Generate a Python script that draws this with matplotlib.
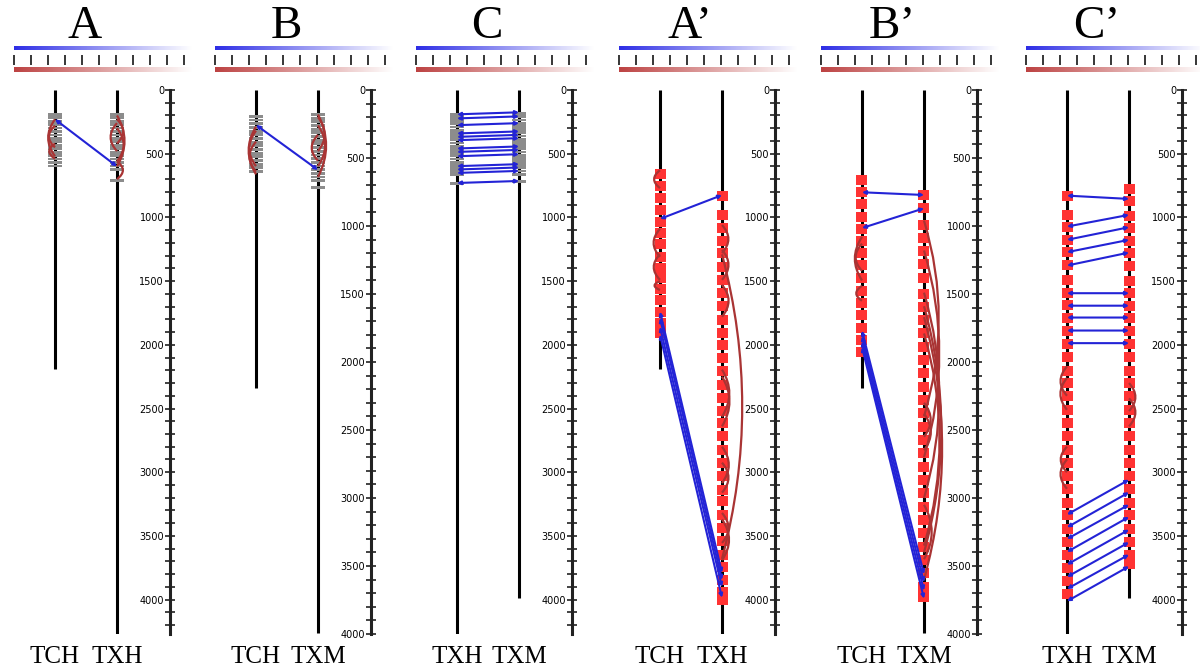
import numpy as np
import matplotlib.pyplot as plt
from matplotlib.patches import Rectangle, PathPatch
from matplotlib.path import Path
from matplotlib.ticker import MultipleLocator

W, H = 1200, 672

titles = ["A", "B", "C", "A\u2019", "B\u2019", "C\u2019"]
left_names = ["TCH", "TCH", "TXH", "TCH", "TCH", "TXH"]
right_names = ["TXH", "TXM", "TXM", "TXH", "TXM", "TXM"]
chrom_len = {"TCH": 2190, "TXH": 4270, "TXM": 3990}
axis_max = [4270, 4000, 4270, 4270, 4000, 4270]
block_kind = ["gray", "gray", "gray", "red", "red", "red"]

# ---- panel A
A_left_blocks = [180, 207, 234, 261, 288, 315, 342, 369, 396, 423, 450, 477, 504, 531, 558, 585]
A_right_blocks = [180, 207, 234, 261, 288, 315, 342, 369, 396, 423, 450, 477, 504, 531, 558, 585, 612, 700]
A_links = [(230, 600)]
A_left_arcs = [(230, 520), (280, 450), (420, 540)]
A_right_arcs = [(200, 600), (230, 420), (300, 560), (560, 700)]
A_inner_arcs = [(260, 480)]

# ---- panel B
B_left_blocks = [184, 211, 238, 265, 292, 319, 346, 373, 400, 427, 454, 481, 508, 535, 562, 589]
B_right_blocks = [170, 197, 224, 251, 278, 305, 332, 359, 386, 413, 440, 467, 494, 521, 548, 575, 602, 629, 655, 705]
B_links = [(257, 588)]
B_left_arcs = [(270, 620), (300, 560), (380, 600)]
B_right_arcs = [(180, 640), (200, 450), (260, 560)]
B_inner_arcs = [(330, 520)]

# ---- panel C
C_left_blocks = [180, 205, 230, 255, 280, 305, 330, 355, 380, 405, 430, 455, 480, 505, 530, 555, 580, 605, 630, 655, 720]
C_right_blocks = [175, 200, 225, 250, 275, 300, 325, 350, 375, 400, 425, 450, 475, 500, 525, 550, 575, 600, 625, 650, 710]
C_links = [(191, 175), (223, 207), (276, 260), (341, 325), (368, 352), (394, 378), (459, 443),
           (486, 470), (520, 504), (598, 582), (624, 608), (651, 635), (730, 714)]
C_left_arcs = []
C_right_arcs = []
C_inner_arcs = []

# ---- panel A'
Ap_left_blocks = [622, 714, 805, 902, 994, 1085, 1171, 1268, 1354, 1438, 1520, 1608, 1700, 1788, 1867]
Ap_right_blocks = [792, 941, 1046, 1145, 1242, 1347, 1451, 1556, 1660, 1765, 1869, 1966, 2065, 2170, 2275,
                   2379, 2484, 2575, 2680, 2784, 2889, 2993, 3098, 3190, 3294, 3398, 3503, 3608, 3707,
                   3804, 3904, 3965]
Ap_links = [(1012, 825), (1740, 3790), (1790, 3845), (1860, 3900), (1920, 3985)]
Ap_left_arcs = [(630, 770), (1090, 1310), (1290, 1490), (1500, 1570)]
Ap_right_arcs = [(1060, 1280), (1255, 1490), (1530, 1780), (1290, 3680), (2195, 2565), (2250, 2640),
                 (2800, 3085), (2925, 3160), (3320, 3555), (3370, 3690)]
Ap_inner_arcs = []

# ---- panel B'
Bp_left_blocks = [625, 711, 803, 894, 985, 1074, 1164, 1250, 1343, 1441, 1532, 1618, 1711, 1801, 1887]
Bp_right_blocks = [735, 829, 956, 1049, 1147, 1245, 1343, 1466, 1556, 1654, 1752, 1851, 1949, 2047, 2145,
                   2243, 2341, 2439, 2537, 2635, 2733, 2831, 2929, 3027, 3125, 3223, 3321, 3419, 3517,
                   3615, 3690]
Bp_links = [(752, 772), (1015, 870), (1770, 3560), (1810, 3620), (1850, 3680), (1890, 3740)]
Bp_left_arcs = [(1080, 1400), (1130, 1330), (1440, 1550)]
Bp_right_arcs = [(960, 2400), (1180, 2700), (1490, 3000), (1590, 3400), (1670, 3600), (1790, 3350),
                 (2300, 2550), (2380, 2650), (3050, 3450)]
Bp_inner_arcs = []

# ---- panel C'
Cp_left_blocks = [790, 940, 1040, 1140, 1235, 1335, 1450, 1555, 1650, 1750, 1850, 1955, 2060, 2165, 2260,
                  2365, 2470, 2575, 2680, 2785, 2890, 2990, 3095, 3200, 3300, 3405, 3505, 3610, 3710,
                  3815, 3920]
Cp_right_blocks = [740, 830, 950, 1045, 1145, 1240, 1345, 1460, 1555, 1655, 1750, 1850, 1955, 2060, 2165,
                   2260, 2365, 2470, 2575, 2680, 2785, 2890, 2990, 3095, 3200, 3300, 3405, 3505, 3610, 3680]
Cp_links = [(829, 855), (1072, 980), (1176, 1077), (1273, 1176), (1378, 1276),
            (1595, 1595), (1693, 1693), (1786, 1786), (1888, 1888), (1987, 1987),
            (3333, 3059), (3433, 3158), (3524, 3255), (3626, 3351), (3725, 3451), (3822, 3550),
            (3916, 3647), (4013, 3739)]
Cp_left_arcs = [(2170, 2400), (2260, 2510), (2800, 3000), (2900, 3130)]
Cp_right_arcs = [(2300, 2520), (2420, 2640)]
Cp_inner_arcs = []

left_blocks = [A_left_blocks, B_left_blocks, C_left_blocks, Ap_left_blocks, Bp_left_blocks, Cp_left_blocks]
right_blocks = [A_right_blocks, B_right_blocks, C_right_blocks, Ap_right_blocks, Bp_right_blocks, Cp_right_blocks]
links = [A_links, B_links, C_links, Ap_links, Bp_links, Cp_links]
left_arcs = [A_left_arcs, B_left_arcs, C_left_arcs, Ap_left_arcs, Bp_left_arcs, Cp_left_arcs]
right_arcs = [A_right_arcs, B_right_arcs, C_right_arcs, Ap_right_arcs, Bp_right_arcs, Cp_right_arcs]
inner_arcs = [A_inner_arcs, B_inner_arcs, C_inner_arcs, Ap_inner_arcs, Bp_inner_arcs, Cp_inner_arcs]

origins = [13, 214, 415, 618, 820, 1025]

BLUE = "#2323d6"
ARC = "#a93434"
RED = "#ff3333"
GRAY = "#8c8c8c"
PX = 62.0  # pixels per x unit

fig = plt.figure(figsize=(12, 6.72), dpi=100)


def arc(ax, x, y1, y2, side, scale):
    span_px = abs(y2 - y1) * scale
    c = (10 + 0.1 * span_px) / PX
    p = Path([(x, y1), (x + side * c, (y1 + y2) / 2), (x, y2)], [Path.MOVETO, Path.CURVE3, Path.CURVE3])
    ax.add_patch(PathPatch(p, fc="none", ec=ARC, lw=1.6, zorder=4))


def color_bar(o):
    cax = fig.add_axes([o / W, 1 - 75 / H, 180 / W, 31 / H])
    cax.axis("off")
    t = np.linspace(0, 1, 256)
    blue = np.ones((1, 256, 4))
    blue[0, :, 0] = 0.18 + 0.82 * t
    blue[0, :, 1] = 0.18 + 0.82 * t
    blue[0, :, 2] = 0.9 + 0.1 * t
    red = np.ones((1, 256, 4))
    red[0, :, 0] = 0.74 + 0.26 * t
    red[0, :, 1] = 0.26 + 0.74 * t
    red[0, :, 2] = 0.26 + 0.74 * t
    cax.imshow(blue, extent=[0, 10.4, 50.5, 46.5], aspect="auto")
    cax.imshow(red, extent=[0, 10.4, 72, 67.5], aspect="auto")
    cax.vlines(np.arange(11), 55, 65, color="black", lw=1.1)
    cax.set_xlim(-0.05, 10.5)
    cax.set_ylim(75, 44)


for i in range(6):
    o = origins[i]
    ymax = axis_max[i]
    scale = 544.0 / ymax
    ax = fig.add_axes([(o + 4.8) / W, (H - 634) / H, 2.6 * PX / W, 544 / H])
    ax.set_xlim(-0.6, 2.0)
    ax.set_ylim(ymax, 0)
    for s in ["top", "right", "bottom"]:
        ax.spines[s].set_visible(False)
    ax.spines["left"].set_position(("data", 1.86))
    ax.spines["left"].set_linewidth(2.2)
    ax.spines["left"].set_color("#222222")
    ax.set_xticks([])
    ax.yaxis.set_major_locator(MultipleLocator(500))
    ax.yaxis.set_minor_locator(MultipleLocator(100))
    ax.tick_params(axis="y", which="both", direction="inout", length=7, width=1.2, color="#222222",
                   labelsize=7, pad=1)
    ax.patch.set_alpha(0)

    # chromosomes
    ax.plot([0, 0], [0, chrom_len[left_names[i]]], color="black", lw=2.2, solid_capstyle="butt", zorder=1)
    ax.plot([1, 1], [0, chrom_len[right_names[i]]], color="black", lw=2.2, solid_capstyle="butt", zorder=1)

    if block_kind[i] == "red":
        bw, bh, fc = 11 / PX, 10 / scale, RED
    else:
        bw, bh, fc = 14 / PX, 2.8 / scale, GRAY
    for xc, blocks in [(0, left_blocks[i]), (1, right_blocks[i])]:
        for b in blocks:
            ax.add_patch(Rectangle((xc - bw / 2, b), bw, bh, fc=fc, ec="none", zorder=2))

    for y1, y2 in left_arcs[i]:
        arc(ax, 0, y1, y2, -1, scale)
    for y1, y2 in right_arcs[i]:
        arc(ax, 1, y1, y2, 1, scale)
    for y1, y2 in inner_arcs[i]:
        arc(ax, 1, y1, y2, -1, scale)

    for yl, yr in links[i]:
        ax.annotate("", xy=(0, yl), xytext=(1, yr),
                    arrowprops=dict(arrowstyle="<|-|>", color=BLUE, lw=1.5, mutation_scale=5,
                                    shrinkA=0, shrinkB=0), zorder=5)

    color_bar(o)

    fig.text((o + 72) / W, 1 - 27 / H, titles[i], ha="center", va="center",
             family="Liberation Serif", fontsize=34)
    fig.text((o + 42) / W, 1 - 657 / H, left_names[i], ha="center", va="center",
             family="Liberation Serif", fontsize=18)
    fig.text((o + 104) / W, 1 - 657 / H, right_names[i], ha="center", va="center",
             family="Liberation Serif", fontsize=18)

fig.savefig("out.png", dpi=100)
